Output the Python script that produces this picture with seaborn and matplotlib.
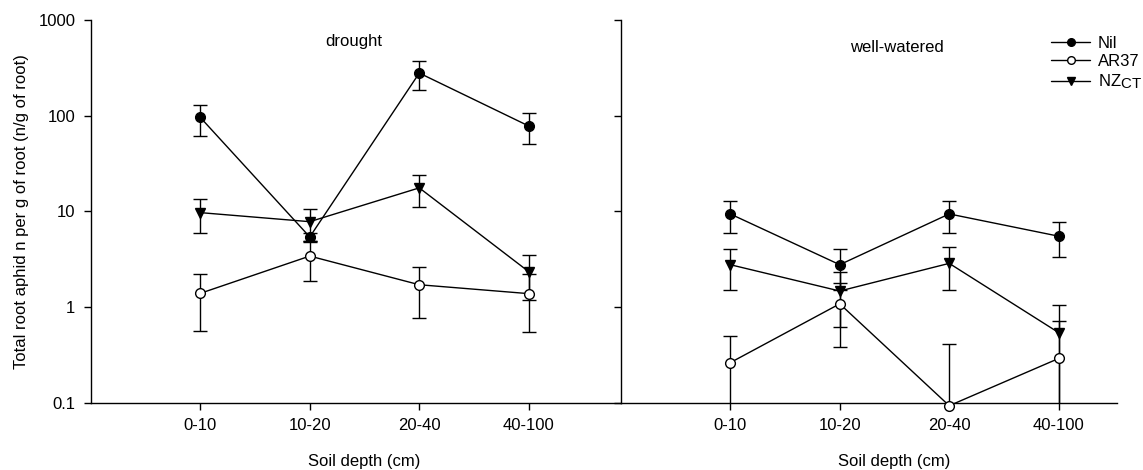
import numpy as np
import pandas as pd
import matplotlib
matplotlib.use("Agg")
import matplotlib.pyplot as plt
from matplotlib.lines import Line2D
from matplotlib.ticker import FixedLocator, FixedFormatter, NullLocator
import seaborn as sns

# Soil depth classes (x categories)
depths = ["0-10", "10-20", "20-40", "40-100"]
series_labels = ["Nil", "AR37", "NZ$_{\\mathregular{CT}}$"]

# Drought treatment: means and standard errors (n/g of root)
drought_nil = [96, 5.4, 279, 78]
drought_nil_err = [34, 0.6, 95, 28]
drought_ar37 = [1.39, 3.41, 1.71, 1.38]
drought_ar37_err = [0.83, 1.54, 0.94, 0.83]
drought_nzct = [9.7, 7.8, 17.6, 2.34]
drought_nzct_err = [3.7, 2.9, 6.5, 1.15]

# Well-watered treatment
wet_nil = [9.4, 2.77, 9.4, 5.5]
wet_nil_err = [3.5, 1.27, 3.5, 2.2]
wet_ar37 = [0.262, 1.08, 0.093, 0.29]
wet_ar37_err = [0.23, 0.70, 0.32, 0.42]
wet_nzct = [2.77, 1.47, 2.86, 0.54]
wet_nzct_err = [1.28, 0.85, 1.35, 0.52]

y_ticks = [0.1, 1, 10, 100, 1000]
y_tick_labels = ["0.1", "1", "10", "100", "1000"]

sns.set_style("ticks")
plt.rcParams["font.family"] = ["Liberation Sans", "DejaVu Sans"]
plt.rcParams["mathtext.fontset"] = "custom"
plt.rcParams["mathtext.rm"] = "Liberation Sans"
plt.rcParams["mathtext.it"] = "Liberation Sans"
for key in ("text.color", "axes.labelcolor", "xtick.color", "ytick.color",
            "axes.edgecolor"):
    plt.rcParams[key] = "black"
# near full-size subscripts for the "CT" label
try:
    import matplotlib._mathtext as _mt
    _mt.SHRINK_FACTOR = 0.9
except Exception:
    pass

FS = 12
styles = [
    dict(marker="o", markerfacecolor="black", markeredgecolor="black"),
    dict(marker="o", markerfacecolor="white", markeredgecolor="black"),
    dict(marker="v", markerfacecolor="black", markeredgecolor="black"),
]

fig = plt.figure(figsize=(11.43, 4.70), dpi=100)
ax_d = fig.add_axes([0.0794, 0.1432, 0.4637, 0.8142])
ax_w = fig.add_axes([0.5431, 0.1432, 0.4339, 0.8142])

pos = np.arange(len(depths))


def draw_panel(ax, vals, errs, xmax, title, title_xy):
    for v, e, st in zip(vals, errs, styles):
        v = np.asarray(v, float)
        e = np.asarray(e, float)
        lower = np.minimum(e, v - 1e-3)
        ax.errorbar(pos, v, yerr=[lower, e], fmt="none", ecolor="black",
                    elinewidth=1.0, capsize=5, capthick=1.0, zorder=2)
        n_before = len(ax.lines)
        df = pd.DataFrame({"pos": pos, "value": v})
        sns.lineplot(data=df, x="pos", y="value", ax=ax, color="black",
                     linewidth=1.0, markersize=7, markeredgewidth=1.0,
                     errorbar=None, zorder=3, **st)
        for ln in ax.lines[n_before:]:
            ln.set_clip_on(False)
    ax.set_yscale("log")
    ax.set_ylim(0.1, 1000)
    ax.set_xlim(-1, xmax)
    ax.yaxis.set_major_locator(FixedLocator(y_ticks))
    ax.yaxis.set_minor_locator(NullLocator())
    ax.set_xticks(pos)
    ax.set_xticklabels(depths, fontsize=FS)
    ax.tick_params(axis="both", direction="out", length=5, width=1.0,
                   color="black", labelcolor="black", labelsize=FS, pad=6)
    ax.set_xlabel("Soil depth (cm)", fontsize=FS, color="black")
    ax.xaxis.set_label_coords((1.5 + 1) / (xmax + 1), -0.135)
    for side in ("top", "right"):
        ax.spines[side].set_visible(False)
    for side in ("left", "bottom"):
        ax.spines[side].set_linewidth(1.0)
        ax.spines[side].set_color("black")
    ax.text(title_xy[0], title_xy[1], title, transform=ax.transData,
            fontsize=FS, ha="center", va="center", color="black")


draw_panel(ax_d, [drought_nil, drought_ar37, drought_nzct],
           [drought_nil_err, drought_ar37_err, drought_nzct_err],
           3.84, "drought", (1.40, 600))
ax_d.yaxis.set_major_formatter(FixedFormatter(y_tick_labels))
ax_d.set_ylabel("Total root aphid n per g of root (n/g of root)",
                fontsize=FS, color="black")
ax_d.yaxis.set_label_coords(-0.117, 0.5)

draw_panel(ax_w, [wet_nil, wet_ar37, wet_nzct],
           [wet_nil_err, wet_ar37_err, wet_nzct_err],
           3.53, "well-watered", (1.52, 520))
ax_w.set_yticklabels([])
ax_w.set_ylabel("")

handles = [Line2D([0], [0], color="black", linewidth=1.0, markersize=5.5,
                  markeredgewidth=1.0, **st) for st in styles]
fig.legend(handles, series_labels, loc="upper left",
           bbox_to_anchor=(0.914, 0.938), frameon=False, fontsize=FS,
           handlelength=2.3, handletextpad=0.5, labelspacing=0.2,
           borderaxespad=0, labelcolor="black")

fig.savefig("out.png", dpi=100)
